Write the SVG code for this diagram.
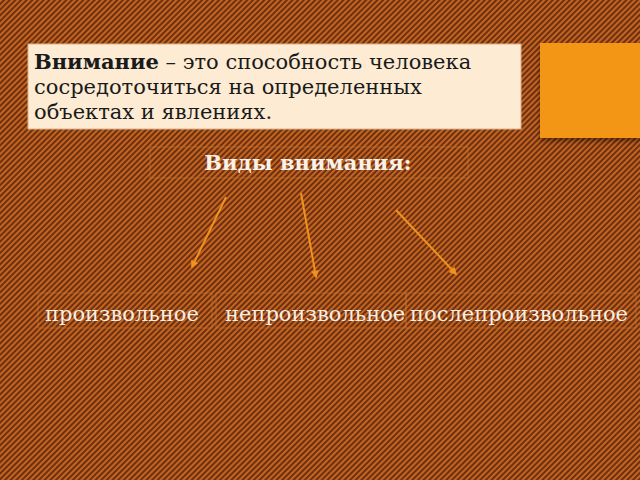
<svg xmlns="http://www.w3.org/2000/svg" width="640" height="480" viewBox="0 0 640 480">
  <defs>
    <pattern id="bg" width="4" height="4" patternUnits="userSpaceOnUse" patternTransform="rotate(45)">
      <rect width="4" height="4" fill="#6e3013"/>
      <rect width="1.8" height="4" fill="#cc6a20"/>
    </pattern>
    <marker id="ah" viewBox="0 0 10 10" refX="8" refY="5" markerWidth="4" markerHeight="4" orient="auto">
      <path d="M0,0 L10,5 L0,10 z" fill="#f0921c"/>
    </marker>
    <filter id="sh" x="-10%" y="-10%" width="130%" height="130%">
      <feDropShadow dx="0" dy="3" stdDeviation="2" flood-color="#000" flood-opacity="0.4"/>
    </filter>
  </defs>
  <style>
    .serif { font-family: "DejaVu Serif", "Liberation Serif", serif; }
    .def { font-size: 21px; fill: #1a1a1a; }
    .lbl { font-size: 21px; fill: #f5efe6; }
    .frame { fill: none; stroke: #c9762e; stroke-width: 1; stroke-opacity: 0.6; }
    .arrow { stroke: #f0921c; stroke-width: 2; fill: none; marker-end: url(#ah); }
  </style>
  <rect width="640" height="480" fill="url(#bg)"/>

  <g id="definition">
    <rect x="28" y="44" width="493" height="85" fill="#fdebd3" stroke="#d9b38d" stroke-width="1"/>
    <text class="serif def" x="34" y="69"><tspan font-weight="bold">Внимание</tspan> – это способность человека</text>
    <text class="serif def" x="34" y="94">сосредоточиться на определенных</text>
    <text class="serif def" x="34" y="119">объектах и явлениях.</text>
  </g>

  <g id="orange-box">
    <rect x="540" y="43" width="100" height="95" fill="#f39617" filter="url(#sh)"/>
  </g>

  <g id="title">
    <rect class="frame" x="150" y="147" width="318" height="31"/>
    <text class="serif" x="308" y="170" text-anchor="middle" font-size="21" font-weight="bold" fill="#f8f2ea">Виды внимания:</text>
  </g>

  <g id="connectors">
    <line class="arrow" x1="226" y1="197" x2="192" y2="267"/>
    <line class="arrow" x1="301" y1="193" x2="316" y2="277"/>
    <line class="arrow" x1="396" y1="210" x2="456" y2="274"/>
  </g>

  <g id="voluntary">
    <rect class="frame" x="38" y="293" width="174" height="35"/>
    <text class="serif lbl" x="45" y="321">произвольное</text>
  </g>
  <g id="involuntary">
    <rect class="frame" x="216" y="293" width="190" height="35"/>
    <text class="serif lbl" x="225" y="321">непроизвольное</text>
  </g>
  <g id="post-voluntary">
    <rect class="frame" x="406" y="293" width="230" height="35"/>
    <text class="serif lbl" x="410" y="321">послепроизвольное</text>
  </g>
</svg>
